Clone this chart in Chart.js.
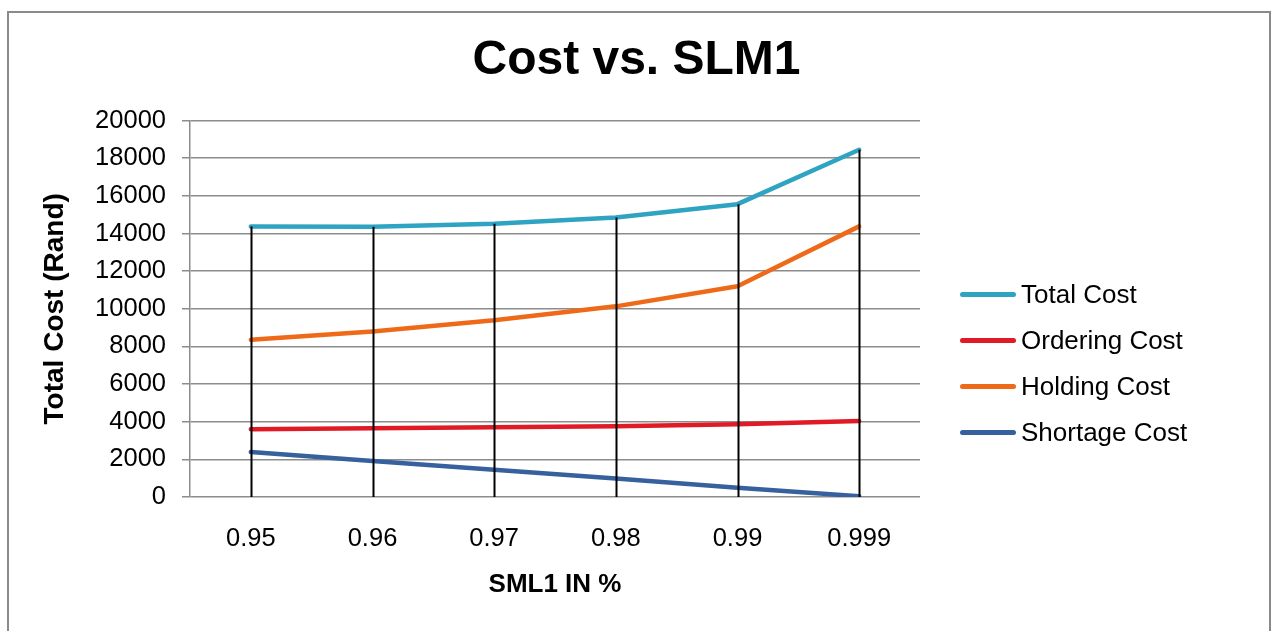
<!DOCTYPE html>
<html>
<head>
<meta charset="utf-8">
<script src="https://cdn.jsdelivr.net/npm/chart.js@4.4.1/dist/chart.umd.min.js"></script>
<style>
  html, body { margin: 0; padding: 0; background: #fff; overflow: hidden; }
  #wrap { position: relative; width: 1273px; height: 631px; }
  #frame { position: absolute; left: 7px; top: 11px; width: 1264px; height: 700px;
           border: 2px solid #8a8a8a; box-sizing: border-box; }
  #chart { position: absolute; left: 0; top: 0; }
  #legend { position: absolute; left: 0; top: 0;
            font-family: 'Liberation Sans', Arial, sans-serif; font-size: 26px; color: #000; }
  .item { position: absolute; left: 960px; height: 30px; display: flex; align-items: center; white-space: nowrap; }
  .swatch { width: 56px; height: 5px; border-radius: 3px; margin-right: 5px; }
</style>
</head>
<body>
<div id="wrap">
  <div id="frame"></div>
  <canvas id="chart" width="1273" height="631"></canvas>
  <div id="legend"></div>
</div>
<script>
// Service level categories
const categories = ['0.95', '0.96', '0.97', '0.98', '0.99', '0.999'];

// Cost components (Rand)
const totalCost    = [14370, 14360, 14520, 14850, 15560, 18450];
const orderingCost = [3600, 3650, 3700, 3760, 3870, 4040];
const holdingCost  = [8350, 8800, 9390, 10130, 11200, 14380];
const shortageCost = [2390, 1910, 1450, 980, 490, 40];

// Y axis range
const yMin = 0;
const yMax = 20000;
const yStep = 2000;

const FONT = "'Liberation Sans', Arial, sans-serif";

const series = [
  { label: 'Total Cost',    data: totalCost,    color: '#2ea3c2' },
  { label: 'Ordering Cost', data: orderingCost, color: '#e01b26' },
  { label: 'Holding Cost',  data: holdingCost,  color: '#ee6a18' },
  { label: 'Shortage Cost', data: shortageCost, color: '#37609f' }
];

// Vertical drop lines from the axis up to the total cost at each category
const dropLines = {
  id: 'dropLines',
  afterDatasetsDraw(chart) {
    const { ctx, scales: { x, y } } = chart;
    ctx.save();
    ctx.strokeStyle = '#000';
    ctx.lineWidth = 2;
    totalCost.forEach((v, i) => {
      const px = Math.round(x.getPixelForValue(i)) + 0.5;
      ctx.beginPath();
      ctx.moveTo(px, y.getPixelForValue(v));
      ctx.lineTo(px, y.getPixelForValue(0));
      ctx.stroke();
    });
    ctx.restore();
  }
};

new Chart(document.getElementById('chart'), {
  type: 'line',
  data: {
    labels: categories,
    datasets: series.map(s => ({
      label: s.label,
      data: s.data,
      borderColor: s.color,
      backgroundColor: s.color,
      borderWidth: 4.5,
      borderCapStyle: 'round',
      borderJoinStyle: 'round',
      pointRadius: 0,
      tension: 0
    }))
  },
  options: {
    responsive: false,
    animation: false,
    devicePixelRatio: 1,
    layout: { padding: 0 },
    plugins: {
      legend: { display: false },
      tooltip: { enabled: false },
      title: {
        display: true,
        text: 'Cost vs. SLM1',
        color: '#000',
        font: { family: FONT, size: 48, weight: 'bold' },
        padding: { top: 32, bottom: 31 }
      }
    },
    scales: {
      x: {
        type: 'category',
        offset: true,
        grid: { display: false, drawTicks: false },
        border: { display: false },
        ticks: { color: '#000', padding: 27, font: { family: FONT, size: 25.5 } },
        title: {
          display: true,
          text: 'SML1 IN %',
          color: '#000',
          font: { family: FONT, size: 26, weight: 'bold' },
          padding: { top: 0, bottom: 31 }
        },
        afterFit: s => { s.height = 134; }
      },
      y: {
        min: yMin,
        max: yMax,
        ticks: {
          stepSize: yStep, color: '#000', padding: 16,
          font: { family: FONT, size: 25.5 },
          callback: v => String(v)
        },
        grid: { color: '#8c8c8c', lineWidth: 1.5, tickLength: 8 },
        border: { color: '#8c8c8c', width: 1.5 },
        title: {
          display: true,
          text: 'Total Cost (Rand)',
          color: '#000',
          font: { family: FONT, size: 28, weight: 'bold' },
          padding: { top: 38 }
        },
        afterFit: s => { s.width = 190; }
      },
      // Reserves the space on the right where the legend sits
      legendSpace: {
        position: 'right',
        min: yMin,
        max: yMax,
        grid: { display: false, drawTicks: false },
        border: { display: false },
        ticks: { display: false },
        afterFit: s => { s.width = 353; }
      }
    }
  },
  plugins: [dropLines]
});

// Legend entries beside the plot
const legendRows = [294, 340, 386, 432];
const legend = document.getElementById('legend');
series.forEach((s, i) => {
  const item = document.createElement('div');
  item.className = 'item';
  item.style.top = (legendRows[i] - 15) + 'px';
  const sw = document.createElement('div');
  sw.className = 'swatch';
  sw.style.background = s.color;
  const txt = document.createElement('span');
  txt.textContent = s.label;
  item.appendChild(sw);
  item.appendChild(txt);
  legend.appendChild(item);
});
</script>
</body>
</html>
